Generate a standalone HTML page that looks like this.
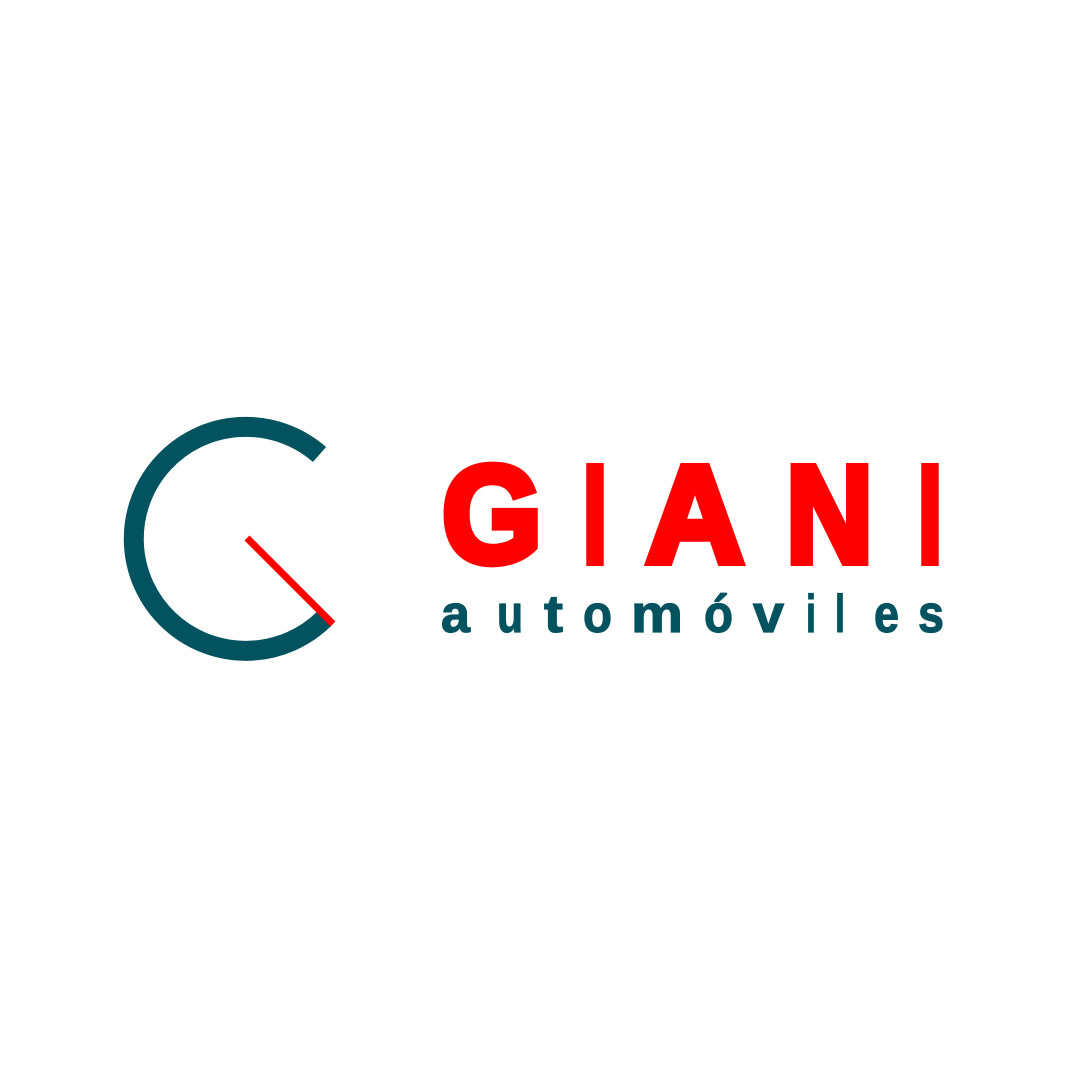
<!DOCTYPE html>
<html><head><meta charset="utf-8"><style>
html,body{margin:0;padding:0;background:#fff;}
svg{display:block;}
</style></head><body>
<svg width="1080" height="1080" viewBox="0 0 1080 1080">
  <rect width="1080" height="1080" fill="#fff"/>
  <path d="M 319.5 454.5 A 112 112 0 1 0 324.5 618.5" fill="none" stroke="#02535f" stroke-width="20"/>
  <line x1="247" y1="538" x2="333" y2="624" stroke="#ff0000" stroke-width="7"/>
  <g font-family="Liberation Sans, sans-serif" font-weight="bold" font-size="138" fill="#ff0000" stroke="#ff0000" stroke-width="8" stroke-linejoin="miter">
    <text x="442" y="562" textLength="100" lengthAdjust="spacingAndGlyphs">G</text>
    <text x="583" y="562" textLength="24" lengthAdjust="spacingAndGlyphs">I</text>
    <text x="646" y="562" textLength="98" lengthAdjust="spacingAndGlyphs">A</text>
    <text x="786" y="562" textLength="87" lengthAdjust="spacingAndGlyphs">N</text>
    <text x="918" y="562" textLength="24" lengthAdjust="spacingAndGlyphs">I</text>
  </g>
  <g font-family="Liberation Sans, sans-serif" font-weight="bold" font-size="53" fill="#02535f" stroke="#02535f" stroke-width="1.2">
    <text x="441" y="632" textLength="29" lengthAdjust="spacingAndGlyphs">a</text>
    <text x="497" y="632" textLength="26" lengthAdjust="spacingAndGlyphs">u</text>
    <text x="544" y="632" textLength="19" lengthAdjust="spacingAndGlyphs">t</text>
    <text x="583" y="632" textLength="29" lengthAdjust="spacingAndGlyphs">o</text>
    <text x="631" y="632" textLength="52" lengthAdjust="spacingAndGlyphs">m</text>
    <text x="704" y="632" textLength="29" lengthAdjust="spacingAndGlyphs">ó</text>
    <text x="753" y="632" textLength="31" lengthAdjust="spacingAndGlyphs">v</text>
    <text x="806" y="632" textLength="10" lengthAdjust="spacingAndGlyphs">i</text>
    <text x="835" y="632" textLength="10" lengthAdjust="spacingAndGlyphs">l</text>
    <text x="874" y="632" textLength="25" lengthAdjust="spacingAndGlyphs">e</text>
    <text x="918" y="632" textLength="26" lengthAdjust="spacingAndGlyphs">s</text>
  </g>
</svg>
</body></html>
